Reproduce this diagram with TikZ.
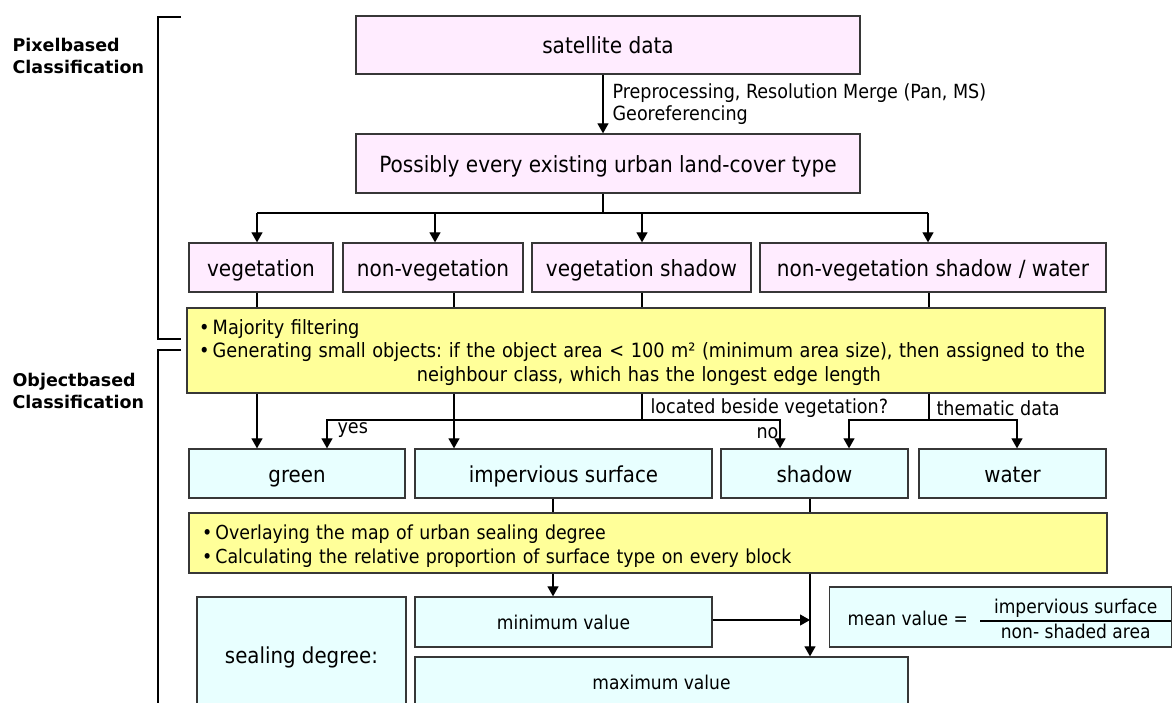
\documentclass[tikz,border=0pt]{standalone}
\usepackage{fontspec}
\setmainfont{DejaVu Sans Condensed}
\newfontfamily\sidefont{DejaVu Sans}
\usetikzlibrary{arrows.meta, positioning}
\frenchspacing

\definecolor{pinkfill}{RGB}{255,236,255}
\definecolor{yellowfill}{RGB}{255,255,153}
\definecolor{cyanfill}{RGB}{232,255,255}
\definecolor{boxline}{RGB}{55,55,55}

\tikzset{
  box/.style={draw=boxline, line width=1.3pt, inner sep=0pt, text height=17.5pt, text depth=0.5pt},
  srcbox/.style={box, fill=pinkfill, font=\fontsize{22.3}{26}\selectfont},
  procbox/.style={draw=boxline, line width=1.3pt, inner sep=0pt, fill=yellowfill, align=left, font=\fontsize{19.7}{23.5}\selectfont},
  landbox/.style={box, fill=cyanfill, font=\fontsize{22}{26}\selectfont},
  valbox/.style={box, fill=cyanfill, text height=15pt, font=\fontsize{19}{24}\selectfont},
  lbl/.style={inner sep=0pt, font=\fontsize{19.5}{22}\selectfont},
  side/.style={inner sep=0pt, anchor=west, align=left, font=\sidefont\bfseries\fontsize{17.5}{22}\selectfont},
  brace/.style={line width=2.5pt, black}
}

\begin{document}
\begin{tikzpicture}[x=1pt, y=-1pt, line width=1.2pt, >={Triangle[length=10pt,width=11pt]}]
\useasboundingbox (0,0) rectangle (1173,702);

\node[side] (pixlab) at (12,56) {Pixelbased\\Classification};
\node[side] (objlab) at (12,391) {Objectbased\\Classification};
\draw[brace] (181,17) -- (158,17) -- (158,339) -- (181,339);
\draw[brace] (181,350) -- (158,350) -- (158,712);

\node[srcbox, minimum width=504, minimum height=58] (sat) at (608,45) {satellite data};
\node[srcbox, minimum width=504, minimum height=59] (poss) at (608,163.5) {Possibly every existing urban land-cover type};

\node[srcbox, minimum width=144, minimum height=49] (veg) at (261,267.5) {vegetation};
\node[srcbox, minimum width=180, minimum height=49] (nonveg) at (433,267.5) {non-vegetation};
\node[srcbox, minimum width=219, minimum height=49] (vegsh) at (641.5,267.5) {vegetation shadow};
\node[srcbox, minimum width=346, minimum height=49] (nvsh) at (933,267.5) {non-vegetation shadow / water};

\node[procbox, minimum width=918, minimum height=85, text width=894] (filt) at (646,350.5)
  {\rule{0pt}{22pt}\textbullet\,Majority filtering\\
   \textbullet\,\begin{tabular}[t]{@{}c@{}}Generating small objects: if the object area < 100 m² (minimum area size), then assigned to the\\
   neighbour class, which has the longest edge length\end{tabular}};

\node[landbox, minimum width=216, minimum height=49] (green) at (297,473.5) {green};
\node[landbox, minimum width=297, minimum height=49] (imperv) at (563.5,473.5) {impervious surface};
\node[landbox, minimum width=187, minimum height=49] (shadow) at (814.5,473.5) {shadow};
\node[landbox, minimum width=187, minimum height=49] (water) at (1012.5,473.5) {water};

\node[procbox, minimum width=918, minimum height=60, text width=892, font=\fontsize{19.3}{24}\selectfont] (overlay) at (648,543)
  {\rule{0pt}{20pt}\textbullet\,Overlaying the map of urban sealing degree\\
   \textbullet\,Calculating the relative proportion of surface type on every block};

\node[landbox, minimum width=209, minimum height=116] (sealing) at (301.5,655) {sealing degree:};
\node[valbox, minimum width=297, minimum height=50] (minv) at (563.5,622) {minimum value};
\node[valbox, minimum width=493, minimum height=50] (maxv) at (661.5,682) {maximum value};
\node[valbox, anchor=west, minimum height=60, text height=, text depth=] (mean) at (829,617)
  {\raisebox{-4pt}[\height][\depth]{\hspace*{18pt}mean value =\hspace{12pt}{\setlength{\arrayrulewidth}{1.2pt}\begin{tabular}{@{\hspace{14pt}}c@{\hspace{14pt}}}impervious surface\\\hline non- shaded area\end{tabular}}}};

\draw[->] ([xshift=-5pt]sat.south) -- ([xshift=-5pt]poss.north)
  node[lbl, midway, right=9pt, align=left] (prep) {Preprocessing, Resolution Merge (Pan, MS)\\Georeferencing};

\coordinate (split) at (603,213);
\draw (poss.south -| split) -- (split);
\draw (257,213) -- (928,213);
\foreach \n/\x in {veg/257, nonveg/435, vegsh/642, nvsh/928}
  \draw[->] (\x,213) -- (\n.north -| \x,0);
\foreach \n/\x in {veg/257, nonveg/454, vegsh/642, nvsh/929}
  \draw (\n.south -| \x,0) -- (filt.north -| \x,0);

\draw[->] (filt.south -| 257,0) -- (green.north -| 257,0);
\draw[->] (filt.south -| 454,0) -- (imperv.north -| 454,0);

\coordinate (locq) at (642,420);
\draw (filt.south -| locq) -- (locq);
\draw[->] (locq) -| (green.north -| 327,0);
\draw[->] (locq) -| (shadow.north -| 780,0);
\node[lbl, anchor=west] (loclab) at (650,408) {located beside vegetation?};
\node[lbl, anchor=west] (yes) at (337,430) {yes};
\node[lbl, anchor=west] (no) at (756,433) {no};

\coordinate (them) at (929,420);
\draw (filt.south -| them) -- (them);
\draw[->] (them) -| (shadow.north -| 849,0);
\draw[->] (them) -| (water.north -| 1017,0);
\node[lbl, anchor=west] (themlab) at (936,408) {thematic data};

\draw (imperv.south -| 553,0) -- (overlay.north -| 553,0);
\draw (shadow.south -| 810,0) -- (overlay.north -| 810,0);
\draw[->] (overlay.south -| 553,0) -- (minv.north -| 553,0);
\draw[->] (overlay.south -| 810,0) -- (maxv.north -| 810,0);
\coordinate (join) at (810,620);
\draw[->] (minv.east |- join) -- (join);
\end{tikzpicture}
\end{document}
